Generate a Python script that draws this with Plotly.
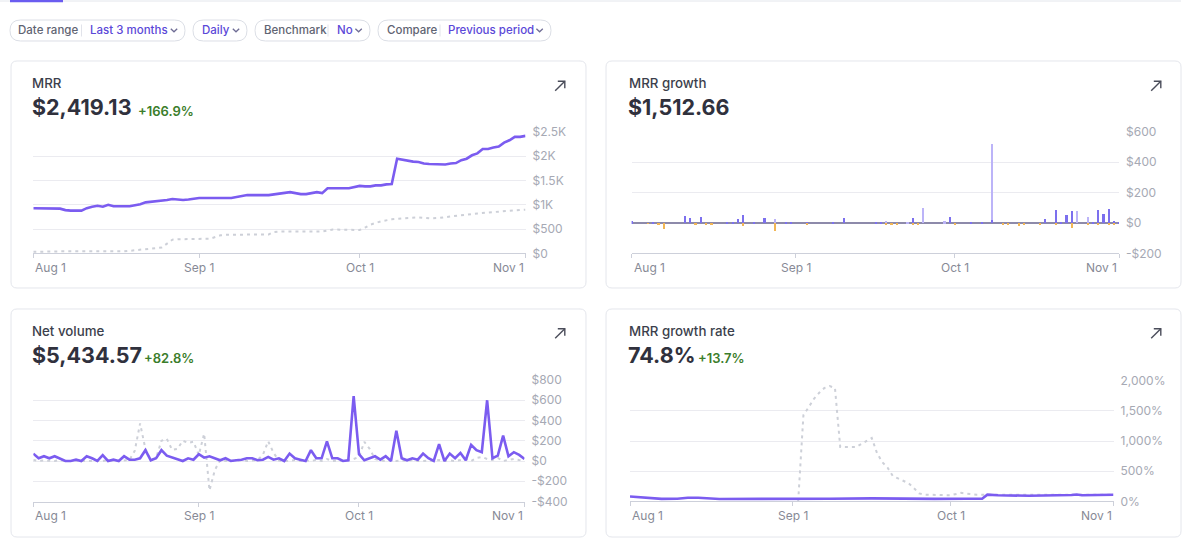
import pandas as pd
import plotly.graph_objects as go

W, H = 1200, 550
START = "2023-08-01"

MONTH_TICKS = ["2023-08-01", "2023-09-01", "2023-10-01", "2023-11-01"]
MONTH_LABELS = ["Aug 1", "Sep 1", "Oct 1", "Nov 1"]

# ---------------- MRR (day offset from Aug 1) ----------------
MRR_DAYS = [0, 2, 3, 4, 5, 6, 7, 9, 10, 11, 12, 13, 14, 15, 18, 19, 20, 21, 22, 23, 24, 25, 26, 27, 28, 29, 30, 31,
            37, 38, 39, 40, 44, 45, 46, 48, 49, 50, 51, 52, 53, 54, 55, 59, 60, 61, 62, 63, 64, 65, 66, 67, 68,
            69, 70, 71, 72, 73, 74, 76, 77, 78, 79, 80, 81, 82, 83, 84, 85, 86, 87, 88, 89, 90, 91, 92]
MRR_VALUES = [930, 930, 915, 930, 920, 890, 880, 880, 930, 960, 980, 960, 1000, 970, 970, 990, 1010, 1050, 1060, 1070,
              1080, 1100, 1120, 1110, 1100, 1110, 1130, 1140,
              1140, 1160, 1170, 1200, 1200, 1210, 1230, 1260, 1240, 1220, 1220, 1240, 1260, 1240, 1340, 1340, 1360,
              1390, 1380, 1380, 1400, 1400, 1420, 1430, 1950, 1930, 1900, 1890, 1880, 1850, 1840, 1840, 1830, 1850,
              1860, 1920, 1950, 2020, 2060, 2150, 2150, 2180, 2200, 2280, 2330, 2400, 2400, 2420]
MRR_PREV_DAYS = [0, 5, 17, 19, 22, 24, 25, 26, 27, 33, 35, 36, 44, 45, 46, 54, 56, 60, 61, 62, 63, 65, 67, 69, 72,
                 74, 76, 78, 80, 83, 86, 89, 92]
MRR_PREV_VALUES = [30, 40, 40, 60, 90, 120, 200, 280, 290, 300, 370, 380, 390, 440, 450, 450, 490, 490, 480, 530,
                   590, 660, 700, 720, 740, 720, 730, 760, 790, 820, 850, 870, 900]
MRR_TICKS = [0, 500, 1000, 1500, 2000, 2500]
MRR_TICK_LABELS = ["$0", "$500", "$1K", "$1.5K", "$2K", "$2.5K"]

# ---------------- MRR growth (daily bars) ----------------
GROWTH_UP_DAYS = [0, 4, 10, 11, 13, 18, 19, 20, 21, 23, 25, 29, 30, 33, 38, 40, 46, 47, 53, 60, 64, 66, 68, 78,
                  80, 81, 82, 83, 87, 88, 89, 90, 91, 92]
GROWTH_UP_VALUES = [12, 10, 50, 36, 44, 8, 10, 27, 55, 10, 36, 8, 8, 8, 8, 36, 8, 6, 36, 44, 8, 8, 20, 27,
                    89, 10, 55, 78, 10, 89, 62, 96, 15, 10]
GROWTH_NEW_DAYS = [27, 48, 52, 55, 59, 68, 84, 86]
GROWTH_NEW_VALUES = [28, 15, 10, 98, 12, 500, 78, 40]
GROWTH_DOWN_DAYS = [3, 5, 6, 12, 14, 15, 21, 27, 33, 48, 49, 50, 53, 54, 61, 70, 71, 73, 74, 77, 80, 83, 86, 88,
                    90, 91]
GROWTH_DOWN_VALUES = [-5, -8, -40, -8, -8, -8, -20, -50, -10, -8, -6, -6, -8, -8, -10, -10, -8, -18, -10, -6, -8,
                      -30, -8, -8, -8, -8]
GROWTH_TICKS = [-200, 0, 200, 400, 600]
GROWTH_TICK_LABELS = ["-$200", "$0", "$200", "$400", "$600"]

# ---------------- Net volume (daily, Aug 1 .. Nov 1) ----------------
NET_VOLUME = [73, 27, 47, 27, 47, 27, 0, 0, 13, 0, 47, 27, 0, 57, 0, 13, 0, 47, 13, 13, 27, 107, 7, 27, 107, 53,
              33, 13, 0, 27, 13, 67, 33, 47, 27, 7, 27, 0, 7, 13, 27, 27, 7, 13, 40, 13, 27, 0,
              73, 27, 13, 0, 107, 27, 27, 193, 27, 27, 0, 7, 640, 67, 7, 27, 47, 13, 47, 0, 300, 27, 7, 27, 13,
              73, 27, 0, 167, 0, 73, 27, 80, 7, 160, 107, 87, 600, 27, 53, 250, 47, 87, 60, 20]
NET_VOLUME_PREV = [10, 0, 5, 0, 0, 10, 0, 0, 5, 0, 0, 5, 0, 0, 10, 0, 0, 5,
                   10, 100, 370, 120, 10, 30, 200, 220, 110, 120, 200, 180, 190, 60, 270, -290, -90, 10, 0, 5, 0,
                   10, 0, 5, 10, 60, 195, 80, 5, 0,
                   0, 10, 0, 5, 0, 10, 0, 20, 0, 5, 0, 10, 20, 40, 190, 120, 20,
                   5, 0, 10, 0, 5, 0, 10, 0, 0, 5, 0, 10, 0, 5, 0, 10, 20, 0, 30, 40, 20, 10, 30, 0, 10, 20, 10, 5]
NET_TICKS = [-400, -200, 0, 200, 400, 600, 800]
NET_TICK_LABELS = ["-$400", "-$200", "$0", "$200", "$400", "$600", "$800"]

# ---------------- MRR growth rate ----------------
RATE_DAYS = [0, 2, 4, 6, 9, 11, 13, 15, 17, 25, 31, 38, 46, 52, 58, 64, 67, 68, 70, 76, 80, 84, 85, 86, 89, 92]
RATE_VALUES = [80, 70, 55, 40, 42, 58, 60, 45, 38, 40, 38, 42, 48, 38, 40, 42, 42, 110, 100, 92, 95, 105, 112,
               100, 105, 108]
RATE_PREV_DAYS = [32, 33, 34, 35, 36, 37, 38, 39, 40, 43, 44, 45, 46, 47, 48, 49, 50, 51, 52, 53, 54, 55, 56, 59,
                  61, 63, 64, 66, 68, 75, 82, 92]
RATE_PREV_VALUES = [0, 1430, 1560, 1700, 1800, 1880, 1910, 1880, 900, 900, 950, 1000, 1050, 800, 650, 560, 420,
                    380, 340, 300, 220, 130, 110, 110, 100, 140, 125, 110, 110, 105, 110, 110]
RATE_TICKS = [0, 500, 1000, 1500, 2000]
RATE_TICK_LABELS = ["0%", "500%", "1,000%", "1,500%", "2,000%"]

# ---------------- header texts ----------------
CARD_TITLES = ["MRR", "MRR growth", "Net volume", "MRR growth rate"]
CARD_VALUES = ["$2,419.13", "$1,512.66", "$5,434.57", "74.8%"]
CARD_CHANGES = ["+166.9%", "", "+82.8%", "+13.7%"]

# ---------------- styles ----------------
FONT = "Inter, Roboto, 'Noto Sans', sans-serif"
PURPLE = "#7b5cf0"
GREY_DOT = "#cdd0d8"
GRID = "#ebebf0"
AXIS = "#cdd0da"
YLAB = "#a6a9b4"
XLAB = "#878a96"
DARK = "#30313d"
GREEN = "#3b7d2b"
LINK = "#5b48d8"
DOT_DASH = "3px,4px"


def to_dates(days):
    return [pd.Timestamp(START) + pd.Timedelta(days=int(d)) for d in days]


def fx(x):
    return x / W


def fy(y):
    return 1 - y / H


DAILY = to_dates(range(len(NET_VOLUME)))

fig = go.Figure()

# panel 1: MRR
fig.add_trace(go.Scatter(x=to_dates(MRR_PREV_DAYS), y=MRR_PREV_VALUES, mode="lines",
                         line=dict(color=GREY_DOT, width=2, dash=DOT_DASH), xaxis="x", yaxis="y"))
fig.add_trace(go.Scatter(x=to_dates(MRR_DAYS), y=MRR_VALUES, mode="lines",
                         line=dict(color=PURPLE, width=2.6), xaxis="x", yaxis="y"))

# panel 2: MRR growth bars
BAR_W = 0.42 * 86400000
fig.add_trace(go.Bar(x=to_dates(GROWTH_UP_DAYS), y=GROWTH_UP_VALUES, width=BAR_W,
                     marker=dict(color="#7c70ee", line=dict(width=0)), xaxis="x2", yaxis="y2"))
fig.add_trace(go.Bar(x=to_dates(GROWTH_NEW_DAYS), y=GROWTH_NEW_VALUES, width=BAR_W,
                     marker=dict(color="#bcb4f8", line=dict(width=0)), xaxis="x2", yaxis="y2"))
fig.add_trace(go.Bar(x=to_dates(GROWTH_DOWN_DAYS), y=GROWTH_DOWN_VALUES, width=BAR_W,
                     marker=dict(color="#f2b654", line=dict(width=0)), xaxis="x2", yaxis="y2"))

# panel 3: Net volume
fig.add_trace(go.Scatter(x=DAILY, y=NET_VOLUME_PREV, mode="lines",
                         line=dict(color=GREY_DOT, width=2, dash=DOT_DASH), xaxis="x3", yaxis="y3"))
fig.add_trace(go.Scatter(x=DAILY, y=NET_VOLUME, mode="lines",
                         line=dict(color=PURPLE, width=2.6), xaxis="x3", yaxis="y3"))

# panel 4: MRR growth rate
fig.add_trace(go.Scatter(x=to_dates(RATE_PREV_DAYS), y=RATE_PREV_VALUES, mode="lines",
                         line=dict(color=GREY_DOT, width=2, dash=DOT_DASH), xaxis="x4", yaxis="y4"))
fig.add_trace(go.Scatter(x=to_dates(RATE_DAYS), y=RATE_VALUES, mode="lines",
                         line=dict(color=PURPLE, width=2.6), xaxis="x4", yaxis="y4"))

# plot areas in pixels: (left, right, top, bottom)
PANELS = [
    (33.3, 525.5, 132.0, 253.3),
    (631.6, 1119.0, 131.7, 253.3),
    (33.3, 524.5, 380.0, 501.5),
    (630.0, 1113.5, 380.7, 501.3),
]
Y_SETUP = [
    (MRR_TICKS, MRR_TICK_LABELS, [0, 2500]),
    (GROWTH_TICKS, GROWTH_TICK_LABELS, [-200, 600]),
    (NET_TICKS, NET_TICK_LABELS, [-400, 800]),
    (RATE_TICKS, RATE_TICK_LABELS, [0, 2000]),
]

layout = dict(
    width=W, height=H, autosize=False, margin=dict(l=0, r=0, t=0, b=0, pad=0, autoexpand=False),
    paper_bgcolor="white", plot_bgcolor="rgba(0,0,0,0)",
    showlegend=False, hovermode=False, barmode="relative", bargap=0,
    font=dict(family=FONT),
)

for i, (l, r, t, b) in enumerate(PANELS):
    k = "" if i == 0 else str(i + 1)
    ticks, labels, rng = Y_SETUP[i]
    layout["xaxis" + k] = dict(
        type="date", domain=[fx(l), fx(r)], anchor="y" + k, automargin=False,
        range=[MONTH_TICKS[0], MONTH_TICKS[-1]],
        tickvals=MONTH_TICKS, showticklabels=False, ticks="outside", ticklen=4,
        tickcolor=AXIS, tickwidth=1, showline=True, linecolor=AXIS, linewidth=1,
        showgrid=False, zeroline=False, fixedrange=True,
    )
    layout["yaxis" + k] = dict(
        domain=[fy(b), fy(t)], anchor="x" + k, side="right", range=rng, automargin=False,
        tickvals=ticks, ticktext=labels, ticks="", ticklabelstandoff=6,
        tickfont=dict(size=12, color=YLAB, family=FONT),
        showgrid=True, gridcolor=GRID, gridwidth=1, showline=False,
        zeroline=(i == 1), zerolinecolor="#8d8aaa", zerolinewidth=1.5, fixedrange=True,
    )

shapes = []
annotations = []


def rrect_path(x0, y0, x1, y1, r):
    pts = [
        ("M", [(x0 + r, y0)]), ("L", [(x1 - r, y0)]), ("Q", [(x1, y0), (x1, y0 + r)]),
        ("L", [(x1, y1 - r)]), ("Q", [(x1, y1), (x1 - r, y1)]), ("L", [(x0 + r, y1)]),
        ("Q", [(x0, y1), (x0, y1 - r)]), ("L", [(x0, y0 + r)]), ("Q", [(x0, y0), (x0 + r, y0)]),
    ]
    s = ""
    for cmd, ps in pts:
        s += cmd + " ".join(f"{fx(px):.6f},{fy(py):.6f}" for px, py in ps) + " "
    return s + "Z"


def poly_path(points):
    return "M" + " L".join(f"{fx(px):.6f},{fy(py):.6f}" for px, py in points)


def line(x0, y0, x1, y1, color, width):
    shapes.append(dict(type="line", xref="paper", yref="paper", x0=fx(x0), y0=fy(y0), x1=fx(x1), y1=fy(y1),
                       line=dict(color=color, width=width), layer="above"))


def text(x, y, s, size, color, weight=400, xanchor="left", xref="paper", xval=None):
    annotations.append(dict(
        x=fx(x) if xval is None else xval, y=fy(y), xref=xref, yref="paper", text=s, showarrow=False,
        xanchor=xanchor, yanchor="middle", font=dict(size=size, color=color, family=FONT, weight=weight)))


# top tab underline
line(0, 1, 1181, 1, "#e3e6ec", 1)
line(10, 1, 63, 1, "#6a5cf0", 2.5)

# filter pills
PILLS = [(10, 185), (193, 247), (255, 370), (378, 551)]
for x0, x1 in PILLS:
    shapes.append(dict(type="path", xref="paper", yref="paper", path=rrect_path(x0, 20, x1, 41, 10.5),
                       line=dict(color="#dcdfe6", width=1), fillcolor="white", layer="below"))
for sx in [81.5, 328, 440]:
    line(sx, 24.5, sx, 36.5, "#e1e3ea", 1)
for cx in [174, 236, 358.6, 539.6]:
    shapes.append(dict(type="path", xref="paper", yref="paper",
                       path=poly_path([(cx - 3.2, 28.8), (cx, 31.8), (cx + 3.2, 28.8)]),
                       line=dict(color="#6f6d95", width=1.3), layer="above"))
PILL_FS = 11.5
text(16, 30.5, "Date range", PILL_FS, "#5f6472", 500)
text(88, 30.5, "Last 3 months", PILL_FS, LINK, 500)
text(200, 30.5, "Daily", PILL_FS, LINK, 500)
text(262, 30.5, "Benchmark", PILL_FS, "#5f6472", 500)
text(335, 30.5, "No", PILL_FS, LINK, 500)
text(384.6, 30.5, "Compare", PILL_FS, "#5f6472", 500)
text(446, 30.5, "Previous period", PILL_FS, LINK, 500)

# cards
CARDS = [(11, 61, 586, 288), (606, 61, 1181, 288), (11, 309, 586, 537), (606, 309, 1181, 537)]
for (x0, y0, x1, y1) in CARDS:
    shapes.append(dict(type="path", xref="paper", yref="paper", path=rrect_path(x0, y0, x1, y1, 6),
                       line=dict(color="#e4e6ec", width=1), fillcolor="white", layer="below"))

HEAD_X = [30.3, 626.5, 30.3, 626.5]
HEAD_Y = [83.3, 83.3, 331.0, 331.0]
for i in range(4):
    hx, hy = HEAD_X[i], HEAD_Y[i]
    text(hx, hy, CARD_TITLES[i], 13.3, "#3c3f4c", 500)
    text(hx - 0.5, hy + 24, CARD_VALUES[i], 21.5, DARK, 700)
    if CARD_CHANGES[i]:
        chx = {0: 135.8, 2: 142.4, 3: 696.0}[i]
        text(chx, hy + 27.2, CARD_CHANGES[i], 13, GREEN, 600)

# expand arrows
for (ax, ay) in [(560, 86), (1156, 86), (560, 333.5), (1156, 333.5)]:
    shapes.append(dict(type="path", xref="paper", yref="paper",
                       path=poly_path([(ax - 4.8, ay + 4.8), (ax + 4.8, ay - 4.8)]),
                       line=dict(color="#4a4d5a", width=1.4), layer="above"))
    shapes.append(dict(type="path", xref="paper", yref="paper",
                       path=poly_path([(ax - 2.2, ay - 4.8), (ax + 4.8, ay - 4.8), (ax + 4.8, ay + 2.2)]),
                       line=dict(color="#4a4d5a", width=1.4), layer="above"))

# x tick labels (first left-aligned, last right-aligned)
LABEL_Y = [267.5, 267.5, 515.5, 515.5]
ANCH = ["left", "center", "center", "right"]
for i in range(4):
    k = "x" if i == 0 else "x" + str(i + 1)
    for j, (tv, tl) in enumerate(zip(MONTH_TICKS, MONTH_LABELS)):
        text(0, LABEL_Y[i], tl, 12, XLAB, 400, xanchor=ANCH[j], xref=k, xval=tv)

layout["shapes"] = shapes
layout["annotations"] = annotations
fig.update_layout(**layout)

POST = ("document.body.style.margin='0';document.body.style.padding='0';"
        "document.body.style.overflow='hidden';")
fig.write_html("out.html", config={"displayModeBar": False, "responsive": False}, post_script=POST)
